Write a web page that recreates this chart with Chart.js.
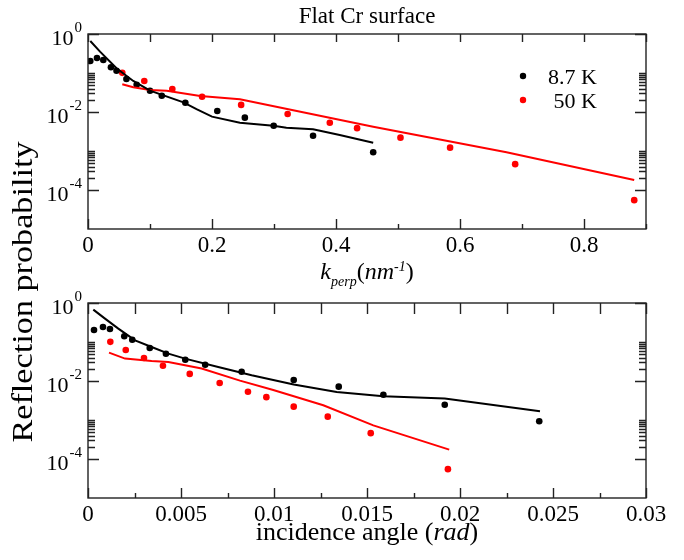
<!DOCTYPE html>
<html>
<head>
<meta charset="utf-8">
<script src="https://cdn.jsdelivr.net/npm/chart.js@4.4.1/dist/chart.umd.min.js"></script>
<style>
  body { margin: 0; background: #fff; }
  #wrap { position: relative; width: 684px; height: 560px; }
  #wrap canvas { position: absolute; left: 0; top: 0; }
</style>
</head>
<body>
<div id="wrap">
  <canvas id="kChart" width="684" height="560"></canvas>
  <canvas id="angleChart" width="684" height="560"></canvas>
</div>
<script>
// measured reflection probabilities (same measurements in both panels)
const probCold = [0.203, 0.242, 0.215, 0.14, 0.114, 0.07, 0.05, 0.035, 0.026, 0.0173, 0.0106, 0.00716, 0.00446, 0.00245, 0.00093];
const probWarm = [0.101, 0.0624, 0.039, 0.0247, 0.0152, 0.0089, 0.0053, 0.00385, 0.0022, 0.00122, 0.00046, 0.000055];

// top panel : k_perp (nm^-1)
const kCold = [0.0037, 0.0145, 0.0247, 0.037, 0.046, 0.062, 0.0785, 0.1, 0.119, 0.157, 0.2085, 0.253, 0.2995, 0.363, 0.46];
const kWarm = [0.0553, 0.0908, 0.136, 0.184, 0.247, 0.322, 0.39, 0.434, 0.504, 0.584, 0.689, 0.881];
const kFitCold = [0.0037, 0.0194, 0.046, 0.073, 0.1, 0.154, 0.175, 0.2, 0.245, 0.299, 0.32, 0.363, 0.406, 0.46];
const fitColdK = [0.66, 0.352, 0.132, 0.0624, 0.0352, 0.0177, 0.0118, 0.0076, 0.0053, 0.00445, 0.00396, 0.0036, 0.00257, 0.00163];
const kFitWarm = [0.0553, 0.073, 0.1, 0.127, 0.181, 0.245, 0.46, 0.675, 0.881];
const fitWarmK = [0.0513, 0.043, 0.0366, 0.0352, 0.0257, 0.0212, 0.0042, 0.00093, 0.00018];

// bottom panel : incidence angle (rad)
const angleCold = [0.000323, 0.000806, 0.00118, 0.00195, 0.00238, 0.00332, 0.00419, 0.00523, 0.0063, 0.00826, 0.01106, 0.01348, 0.01588, 0.01918, 0.02426];
const angleWarm = [0.0012, 0.00203, 0.00301, 0.00403, 0.00547, 0.00708, 0.0086, 0.00959, 0.01106, 0.01289, 0.0152, 0.01935];
const angleFitCold = [0.000285, 0.000914, 0.00163, 0.00253, 0.00342, 0.00432, 0.00522, 0.007, 0.0088, 0.01106, 0.01337, 0.01588, 0.01918, 0.0243];
const fitColdAngle = [0.677, 0.398, 0.221, 0.11, 0.0745, 0.0504, 0.0375, 0.0229, 0.014, 0.0081, 0.00522, 0.00405, 0.00354, 0.00167];
const angleFitWarm = [0.00113, 0.00199, 0.00342, 0.00432, 0.00611, 0.00817, 0.00996, 0.01265, 0.01534, 0.01942];
const fitWarmAngle = [0.0535, 0.0375, 0.0326, 0.0307, 0.021, 0.0102, 0.0059, 0.00238, 0.00073, 0.000174];

// axes
const kTicks = [0, 0.1, 0.2, 0.3, 0.4, 0.5, 0.6, 0.7, 0.8, 0.9];
const kLabels = ['0', '', '0.2', '', '0.4', '', '0.6', '', '0.8', ''];
const angleTicks = [0, 0.0025, 0.005, 0.0075, 0.01, 0.0125, 0.015, 0.0175, 0.02, 0.0225, 0.025, 0.0275, 0.03];
const angleLabels = ['0', '', '0.005', '', '0.01', '', '0.015', '', '0.02', '', '0.025', '', '0.03'];
const probMajor = [1, 1e-2, 1e-4];
const probExponents = ['0', '-2', '-4'];
const probMinor = [2e-2, 3e-2, 4e-2, 5e-2, 6e-2, 7e-2, 8e-2, 9e-2, 1e-1,
                   2e-4, 3e-4, 4e-4, 5e-4, 6e-4, 7e-4, 8e-4, 9e-4, 1e-3];

const seriesNames = ['8.7 K', '50 K'];
const SERIF = '"Liberation Serif", "Times New Roman", serif';
const RED = '#ff0000';

const xy = (xs, ys) => xs.map((x, i) => ({ x, y: ys[i] }));

// texte avec morceaux en italique / indice / exposant
function drawRich(ctx, parts, cx, baseline) {
  let total = 0;
  parts.forEach(p => {
    ctx.font = `${p.italic ? 'italic ' : ''}${p.size}px ${SERIF}`;
    p.w = ctx.measureText(p.t).width;
    total += p.w;
  });
  let x = cx - total / 2;
  ctx.textAlign = 'left';
  ctx.textBaseline = 'alphabetic';
  parts.forEach(p => {
    ctx.font = `${p.italic ? 'italic ' : ''}${p.size}px ${SERIF}`;
    ctx.fillText(p.t, x, baseline + (p.dy || 0));
    x += p.w;
  });
}

function framePlugin(xTicks, topTickLen, extras) {
  return {
    id: 'frameTicks',
    afterDraw(chart) {
      const { ctx, chartArea: a, scales: { x, y } } = chart;
      ctx.save();
      ctx.strokeStyle = '#222';
      ctx.lineWidth = 1.4;
      ctx.strokeRect(a.left, a.top, a.right - a.left, a.bottom - a.top);

      ctx.beginPath();
      xTicks.forEach((v, i) => {
        const px = Math.round(x.getPixelForValue(v)) + 0.5;
        const len = i % 2 === 0 ? 10 : 5;
        ctx.moveTo(px, a.bottom); ctx.lineTo(px, a.bottom - len);
        ctx.moveTo(px, a.top); ctx.lineTo(px, a.top + topTickLen);
      });
      probMajor.forEach(v => {
        const py = Math.round(y.getPixelForValue(v)) + 0.5;
        ctx.moveTo(a.left, py); ctx.lineTo(a.left + 11, py);
        ctx.moveTo(a.right, py); ctx.lineTo(a.right - 11, py);
      });
      probMinor.forEach(v => {
        const py = Math.round(y.getPixelForValue(v)) + 0.5;
        ctx.moveTo(a.left, py); ctx.lineTo(a.left + 7, py);
        ctx.moveTo(a.right, py); ctx.lineTo(a.right - 7, py);
      });
      ctx.stroke();

      // étiquettes 10^n
      ctx.fillStyle = '#000';
      ctx.textAlign = 'right';
      ctx.textBaseline = 'alphabetic';
      probMajor.forEach((v, i) => {
        const py = y.getPixelForValue(v);
        ctx.font = `15px ${SERIF}`;
        const sw = ctx.measureText(probExponents[i]).width;
        ctx.fillText(probExponents[i], a.left - 6, py - 2);
        ctx.font = `22px ${SERIF}`;
        ctx.fillText('10', a.left - 7 - sw, py + 11);
      });

      if (extras) extras(ctx, a);
      ctx.restore();
    }
  };
}

function xScale(ticks, labels, max) {
  return {
    type: 'linear',
    min: 0,
    max: max,
    afterBuildTicks: s => { s.ticks = ticks.map(v => ({ value: v })); },
    ticks: {
      autoSkip: false,
      maxRotation: 0,
      padding: 3,
      color: '#000',
      font: { family: SERIF, size: 23 },
      callback: (v, i) => labels[i]
    },
    grid: { display: false, drawTicks: false },
    border: { display: false }
  };
}

function yScale() {
  return {
    type: 'logarithmic',
    min: 1e-5,
    max: 1,
    ticks: { display: false },
    grid: { display: false, drawTicks: false },
    border: { display: false },
    afterFit: s => { s.width = 88; }
  };
}

function datasets(xc, xw, xfc, yfc, xfw, yfw) {
  return [
    { label: seriesNames[0] + ' fit', data: xy(xfc, yfc), showLine: true, borderColor: '#000', borderWidth: 2, pointRadius: 0, tension: 0 },
    { label: seriesNames[1] + ' fit', data: xy(xfw, yfw), showLine: true, borderColor: RED, borderWidth: 2, pointRadius: 0, tension: 0 },
    { label: seriesNames[0], data: xy(xc, probCold), showLine: false, pointRadius: 3.3, pointBorderWidth: 0, backgroundColor: '#000', borderColor: '#000' },
    { label: seriesNames[1], data: xy(xw, probWarm), showLine: false, pointRadius: 3.3, pointBorderWidth: 0, backgroundColor: RED, borderColor: RED }
  ];
}

const common = {
  responsive: false,
  animation: false,
  plugins: { legend: { display: false }, tooltip: { enabled: false } }
};

// panneau du haut : k_perp
const topX = xScale(kTicks, kLabels, 0.9);
topX.afterFit = s => { s.height = 560 - 229; };
new Chart(document.getElementById('kChart'), {
  type: 'scatter',
  data: { datasets: datasets(kCold, kWarm, kFitCold, fitColdK, kFitWarm, fitWarmK) },
  options: {
    ...common,
    layout: { padding: { top: 34, right: 38, left: 0, bottom: 0 } },
    scales: { x: topX, y: yScale() }
  },
  plugins: [framePlugin(kTicks, 8, (ctx, a) => {
    const cx = (a.left + a.right) / 2;
    ctx.fillStyle = '#000';
    // titre
    ctx.font = `23px ${SERIF}`;
    ctx.textAlign = 'center';
    ctx.textBaseline = 'alphabetic';
    ctx.fillText('Flat Cr surface', cx, 23);

    // titre axe x
    drawRich(ctx, [
      { t: 'k', italic: true, size: 24 },
      { t: 'perp', italic: true, size: 14, dy: 7 },
      { t: '(', size: 24 },
      { t: 'nm', italic: true, size: 24 },
      { t: '-1', italic: true, size: 14, dy: -8 },
      { t: ')', size: 24 }
    ], cx, 279);

    // légende
    const lx = a.right - 123, tx = a.right - 49;
    [['#000', seriesNames[0], a.top + 42], [RED, seriesNames[1], a.top + 66]].forEach(([c, name, ly]) => {
      ctx.fillStyle = c;
      ctx.beginPath();
      ctx.arc(lx, ly, 3.2, 0, Math.PI * 2);
      ctx.fill();
      ctx.fillStyle = '#000';
      ctx.font = `22px ${SERIF}`;
      ctx.textAlign = 'right';
      ctx.textBaseline = 'middle';
      ctx.fillText(name, tx, ly + 2);
    });

    // titre axe y (commun aux deux panneaux)
    ctx.save();
    ctx.font = `29px ${SERIF}`;
    const label = 'Reflection probability';
    const w = ctx.measureText(label).width;
    ctx.translate(32, 292);
    ctx.rotate(-Math.PI / 2);
    ctx.scale(301 / w, 1);
    ctx.textAlign = 'center';
    ctx.textBaseline = 'alphabetic';
    ctx.fillText(label, 0, 0);
    ctx.restore();
  })]
});

// panneau du bas : angle d'incidence
const botX = xScale(angleTicks, angleLabels, 0.03);
botX.afterFit = s => { s.height = 560 - 498; };
new Chart(document.getElementById('angleChart'), {
  type: 'scatter',
  data: { datasets: datasets(angleCold, angleWarm, angleFitCold, fitColdAngle, angleFitWarm, fitWarmAngle) },
  options: {
    ...common,
    layout: { padding: { top: 303, right: 38, left: 0, bottom: 0 } },
    scales: { x: botX, y: yScale() }
  },
  plugins: [framePlugin(angleTicks, 11, (ctx, a) => {
    ctx.fillStyle = '#000';
    drawRich(ctx, [
      { t: 'incidence angle (', size: 26 },
      { t: 'rad', italic: true, size: 26 },
      { t: ')', size: 26 }
    ], (a.left + a.right) / 2, 540);
  })]
});
</script>
</body>
</html>
